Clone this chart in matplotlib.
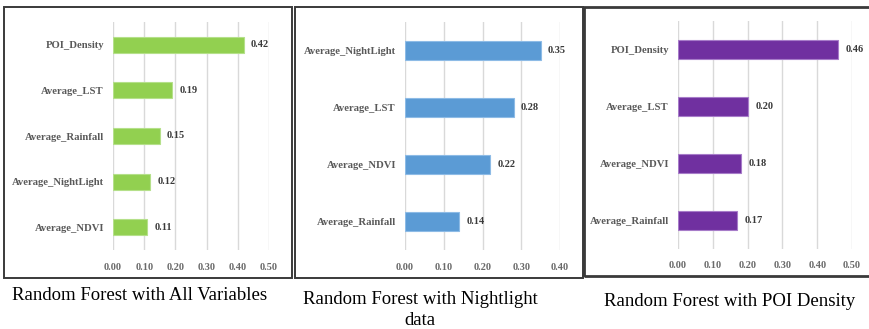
import matplotlib.pyplot as plt
from matplotlib.patches import Rectangle

W, H = 869, 329

# feature importances, top to bottom
all_vars = ['POI_Density', 'Average_LST', 'Average_Rainfall', 'Average_NightLight', 'Average_NDVI']
all_vals = [0.42, 0.19, 0.15, 0.12, 0.11]

night_vars = ['Average_NightLight', 'Average_LST', 'Average_NDVI', 'Average_Rainfall']
night_vals = [0.35, 0.28, 0.22, 0.14]

poi_vars = ['POI_Density', 'Average_LST', 'Average_NDVI', 'Average_Rainfall']
poi_vals = [0.46, 0.20, 0.18, 0.17]

titles = ['Random Forest with All Variables',
          'Random Forest with Nightlight\ndata',
          'Random Forest with POI Density']

plt.rcParams['font.family'] = ['Liberation Serif', 'DejaVu Serif']

fig = plt.figure(figsize=(W / 100, H / 100), dpi=100)
fig.patch.set_facecolor('white')


def px_axes(x0, y0, x1, y1):
    return fig.add_axes([x0 / W, 1 - y1 / H, (x1 - x0) / W, (y1 - y0) / H])


def frame(x0, y0, x1, y1, lw=1.4):
    fig.add_artist(Rectangle((x0 / W, 1 - y1 / H), (x1 - x0) / W, (y1 - y0) / H,
                             transform=fig.transFigure, fill=False,
                             edgecolor='#3a3a3a', linewidth=lw))


def panel(box, labels, vals, xmax, color, edge):
    ax = px_axes(*box)
    y = list(range(len(labels)))
    ax.barh(y, vals, height=0.35, color=color, edgecolor=edge, linewidth=0.8, zorder=3)
    for yi, v in zip(y, vals):
        ax.text(v + xmax * 0.045, yi, f'{v:.2f}', va='center', ha='left',
                fontsize=7.5, fontweight='bold', color='#3a3a3a')
    ax.set_xlim(0, xmax)
    ax.set_ylim(len(labels) - 0.5, -0.5)
    ticks = [i / 10 for i in range(int(round(xmax * 10)) + 1)]
    ax.set_xticks(ticks)
    ax.set_xticklabels([f'{t:.2f}' for t in ticks], fontsize=7.5, color='#6a6a6a',
                       fontweight='bold')
    ax.set_yticks(y)
    ax.set_yticklabels(labels, fontsize=7.7, color='#595959', fontweight='bold')
    ax.tick_params(length=0, axis='y', pad=6.5)
    ax.tick_params(length=0, axis='x', pad=9)
    ax.grid(axis='x', color='#d9d9d9', linewidth=1.0, zorder=0)
    for s in ax.spines.values():
        s.set_visible(False)
    return ax


# panel frames
frame(4, 7, 292, 278)
frame(295, 7, 583, 278)
frame(584, 7, 875, 276, lw=2.0)

panel((113, 22, 269, 250), all_vars, all_vals, 0.5, '#92d050', '#b5e08a')
panel((405, 22, 560, 250), night_vars, night_vals, 0.4, '#5b9bd5', '#8dbbe6')
panel((678, 21, 852, 249), poi_vars, poi_vals, 0.5, '#7030a0', '#a77cc9')

# captions under each panel
fig.text(140 / W, 1 - 296 / H, titles[0], ha='center', va='center', fontsize=13.5)
fig.text(420 / W, 1 - 310 / H, titles[1], ha='center', va='center', fontsize=13.5,
         linespacing=1.3)
fig.text(730 / W, 1 - 301 / H, titles[2], ha='center', va='center', fontsize=13.5)

fig.savefig('out.png', dpi=100)
